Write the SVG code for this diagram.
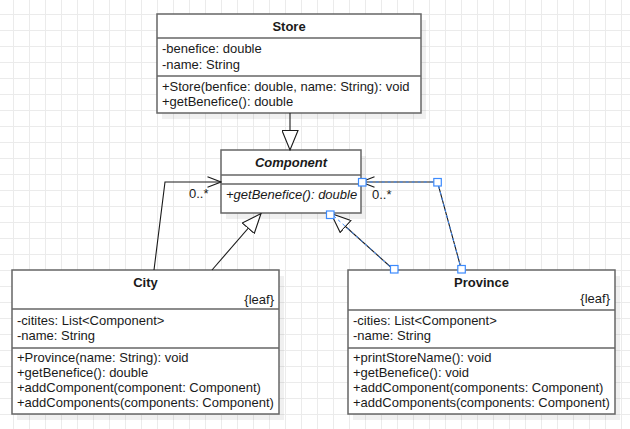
<svg xmlns="http://www.w3.org/2000/svg" width="630" height="429" viewBox="0 0 630 429">
<defs>
<pattern id="grid" x="13" y="14" width="16" height="16" patternUnits="userSpaceOnUse">
<rect x="0" y="0" width="1" height="16" fill="#ebebeb"/>
<rect x="0" y="0" width="16" height="1" fill="#ebebeb"/>
</pattern>
<marker id="gen" viewBox="0 0 21 17" refX="20" refY="8.5" markerWidth="21" markerHeight="17" markerUnits="userSpaceOnUse" orient="auto">
<path d="M0.5,0.5 L20,8.5 L0.5,16.5 Z" fill="#fff" stroke="#1a1a1a" stroke-width="1.1"/>
</marker>
<marker id="open" viewBox="0 0 15 12" refX="14" refY="6" markerWidth="15" markerHeight="12" markerUnits="userSpaceOnUse" orient="auto">
<path d="M0.5,0.8 L14,6 L0.5,11.2" fill="none" stroke="#1a1a1a" stroke-width="1.1"/>
</marker>
</defs>
<style>
.box{fill:#fff;stroke:#666;stroke-width:1.5}
.div{stroke:#666;stroke-width:1.5}
.sh{fill:#000;fill-opacity:0.06}
.t{font-family:"Liberation Sans",Arial,Helvetica,sans-serif;font-size:13px;fill:#1a1a1a}
.b{font-weight:bold}
.i{font-style:italic}
.c{text-anchor:middle}
.e{text-anchor:end}
.edge{fill:none;stroke:#1a1a1a;stroke-width:1.1}
.sel{fill:none;stroke:#3d8bfd;stroke-width:1;stroke-dasharray:3 3}
.handle{fill:#fff;stroke:#3d8bfd;stroke-width:1.2}
</style>
<rect x="0" y="0" width="630" height="429" fill="#fff"/>
<rect x="0" y="0" width="630" height="429" fill="url(#grid)"/>

<g id="Store">
<rect class="sh" x="162" y="20" width="264" height="99"/>
<rect class="box" x="157" y="14" width="264" height="99"/>
<line class="div" x1="157" y1="38" x2="421" y2="38"/>
<line class="div" x1="157" y1="76" x2="421" y2="76"/>
<text class="t b c" x="289" y="31">Store</text>
<text class="t" x="162" y="53">-benefice: double</text>
<text class="t" x="162" y="68.5">-name: String</text>
<text class="t" x="162" y="91">+Store(benfice: double, name: String): void</text>
<text class="t" x="162" y="106">+getBenefice(): double</text>
</g>

<g id="Component">
<rect class="sh" x="226" y="156" width="140" height="63"/>
<rect class="box" x="221" y="150" width="140" height="63"/>
<line class="div" x1="221" y1="175" x2="361" y2="175"/>
<line class="div" x1="221" y1="184" x2="361" y2="184"/>
<text class="t b i c" x="291" y="167">Component</text>
<text class="t i" x="226" y="199">+getBenefice(): double</text>
</g>

<g id="City">
<rect class="sh" x="17" y="276" width="267" height="144"/>
<rect class="box" x="12" y="270" width="267" height="144"/>
<line class="div" x1="12" y1="309" x2="279" y2="309"/>
<line class="div" x1="12" y1="348" x2="279" y2="348"/>
<text class="t b c" x="145.5" y="287">City</text>
<text class="t e" x="274" y="304">{leaf}</text>
<text class="t" x="17" y="324.5">-citites: List&lt;Component&gt;</text>
<text class="t" x="17" y="339.5">-name: String</text>
<text class="t" x="17" y="362">+Province(name: String): void</text>
<text class="t" x="17" y="377">+getBenefice(): double</text>
<text class="t" x="17" y="392">+addComponent(component: Component)</text>
<text class="t" x="17" y="406.5">+addComponents(components: Component)</text>
</g>

<g id="Province">
<rect class="sh" x="353" y="276" width="267" height="144"/>
<rect class="box" x="348" y="270" width="267" height="144"/>
<line class="div" x1="348" y1="310" x2="615" y2="310"/>
<line class="div" x1="348" y1="348" x2="615" y2="348"/>
<text class="t b c" x="481.5" y="287">Province</text>
<text class="t e" x="610" y="303">{leaf}</text>
<text class="t" x="353" y="324.5">-cities: List&lt;Component&gt;</text>
<text class="t" x="353" y="339.5">-name: String</text>
<text class="t" x="353" y="362">+printStoreName(): void</text>
<text class="t" x="353" y="377">+getBenefice(): void</text>
<text class="t" x="353" y="392">+addComponent(components: Component)</text>
<text class="t" x="353" y="406.5">+addComponents(components: Component)</text>
</g>

<g id="connectors">
<path class="edge" d="M290,113 L290,150" marker-end="url(#gen)"/>
<path class="edge" d="M154,270 L165,182 L221,182" marker-end="url(#open)"/>
<text class="t" x="189" y="198">0..*</text>
<path class="edge" d="M212,270 L261,213.5" marker-end="url(#gen)"/>
<path class="edge" d="M394,270 L331,213.5" marker-end="url(#gen)"/>
<path class="sel" d="M394,270 L331,213.5"/>
<path class="edge" d="M461.5,270 L437.5,182 L361,182" marker-end="url(#open)"/>
<path class="sel" d="M461.5,270 L437.5,182 L361,182"/>
<text class="t" x="372" y="198.5">0..*</text>
</g>

<g id="selection-handles">
<rect class="handle" x="358.5" y="178.5" width="7.5" height="7.5"/>
<rect class="handle" x="433.8" y="178.5" width="7.5" height="7.5"/>
<rect class="handle" x="457.8" y="265.5" width="7.5" height="7.5"/>
<rect class="handle" x="326.5" y="211" width="7.5" height="7.5"/>
<rect class="handle" x="390.5" y="265.5" width="7.5" height="7.5"/>
</g>
</svg>
